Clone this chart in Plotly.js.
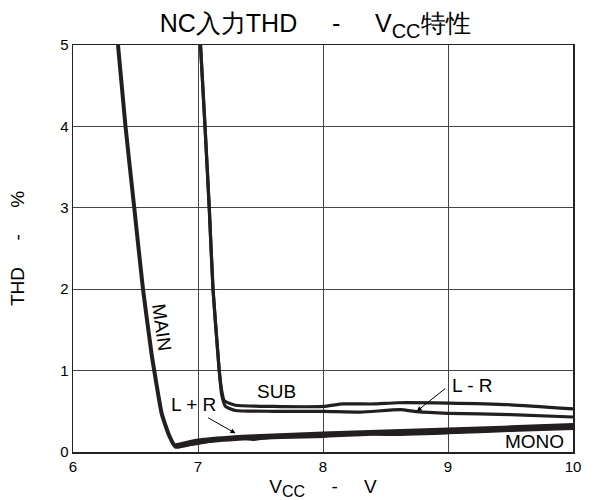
<!DOCTYPE html>
<html>
<head>
<meta charset="utf-8">
<script src="https://cdn.plot.ly/plotly-3.0.1.min.js"></script>
<style>html,body{margin:0;padding:0;background:#fff;}#chart{width:598px;height:500px;}</style>
</head>
<body>
<div id="chart"></div>
<script>
// MAIN: steep fall, then joins the low band
const mainX = [6.36, 6.42, 6.49, 6.56, 6.63, 6.65, 6.71, 6.77, 6.82, 7.0, 7.3, 7.6, 8.0, 8.5, 9.0, 9.5, 10.0];
const mainY = [5.0, 4.0, 3.0, 2.0, 1.19, 1.0, 0.47, 0.20, 0.065, 0.12, 0.16, 0.18, 0.20, 0.23, 0.25, 0.28, 0.31];
// MONO and L+R (thick band near bottom)
const monoX = [6.82, 7.0, 7.3, 7.6, 8.0, 8.5, 9.0, 9.5, 10.0];
const monoY = [0.085, 0.145, 0.185, 0.205, 0.23, 0.255, 0.28, 0.305, 0.335];
const lprX  = [6.82, 7.0, 7.3, 7.45, 7.6, 8.0, 8.2, 8.5, 9.0, 9.5, 10.0];
const lprY  = [0.07, 0.105, 0.18, 0.155, 0.185, 0.19, 0.24, 0.215, 0.235, 0.265, 0.29];
// SUB (upper) and L-R (lower)
const subX = [7.02, 7.056, 7.09, 7.12, 7.16, 7.17, 7.19, 7.21, 7.3, 7.6, 8.0, 8.16, 8.4, 8.6, 9.0, 9.5, 10.0];
const subY = [5.0, 4.0, 3.0, 2.0, 1.19, 1.0, 0.75, 0.63, 0.575, 0.56, 0.56, 0.59, 0.59, 0.605, 0.60, 0.58, 0.53];
const lmrX = [7.02, 7.056, 7.09, 7.12, 7.16, 7.17, 7.19, 7.22, 7.3, 7.6, 8.0, 8.3, 8.62, 8.75, 9.0, 9.5, 10.0];
const lmrY = [5.0, 4.0, 3.0, 2.0, 1.19, 1.0, 0.70, 0.56, 0.51, 0.50, 0.50, 0.49, 0.52, 0.495, 0.475, 0.46, 0.43];

const xTicks = [6, 7, 8, 9, 10];
const yTicks = [0, 1, 2, 3, 4, 5];

const lineColor = '#231f20';
const mk = (x, y, w) => ({x: x, y: y, mode: 'lines', type: 'scatter', line: {color: lineColor, width: w, shape: 'spline', smoothing: 0.5}, hoverinfo: 'skip', showlegend: false});

const data = [
  mk(mainX, mainY, 4.0),
  mk(monoX, monoY, 3.6),
  mk(lprX, lprY, 3.0),
  mk(subX, subY, 3.2),
  mk(lmrX, lmrY, 3.2)
];

const font = 'Liberation Sans, Arial, sans-serif';
const annFont = {size: 19, family: font, color: '#000'};
const layout = {
  width: 598, height: 500,
  paper_bgcolor: '#fff', plot_bgcolor: '#fff',
  margin: {l: 73, r: 25, t: 45, b: 48},
  font: {family: font, color: '#000', size: 15},
  title: {text: 'NC入力THD     -     V<sub><span style="font-size:20px">CC</span></sub>特性', font: {family: font, size: 25, color: '#000'}, x: 0.527, xanchor: 'center', y: 0.953, yanchor: 'middle'},
  xaxis: {
    range: [6, 10], tickvals: xTicks, ticktext: xTicks.map(String),
    showgrid: true, gridcolor: '#444', gridwidth: 1, zeroline: false,
    showline: true, linecolor: '#222', linewidth: 1.5, mirror: true,
    ticks: '', tickfont: {size: 15, family: font},
    title: {text: 'V<sub><span style="font-size:16px">CC</span></sub>     -     V', font: {size: 19, family: font}, standoff: 6},
    automargin: false
  },
  yaxis: {
    range: [0, 5], tickvals: yTicks, ticktext: yTicks.map(String),
    showgrid: true, gridcolor: '#444', gridwidth: 1, zeroline: false,
    showline: true, linecolor: '#222', linewidth: 1.5, mirror: true,
    ticks: '', tickfont: {size: 15, family: font},
    title: {text: 'THD     -     %', font: {size: 19, family: font}, standoff: 30},
    automargin: false
  },
  annotations: [
    {x: 7.63, y: 0.74, text: 'SUB', showarrow: false, font: annFont},
    {x: 6.71, y: 1.53, text: 'MAIN', showarrow: false, textangle: 82, font: annFont},
    {x: 9.945, y: 0.13, text: 'MONO', showarrow: false, xanchor: 'right', font: annFont},
    {x: 7.30, y: 0.23, ax: 7.07, ay: 0.43, axref: 'x', ayref: 'y', text: '', showarrow: true, arrowhead: 2, arrowsize: 1, arrowwidth: 1, arrowcolor: '#000'},
    {x: 6.96, y: 0.58, text: 'L + R', showarrow: false, font: annFont},
    {x: 8.75, y: 0.50, ax: 8.99, ay: 0.795, axref: 'x', ayref: 'y', text: '', showarrow: true, arrowhead: 2, arrowsize: 1, arrowwidth: 1, arrowcolor: '#000'},
    {x: 9.19, y: 0.82, text: 'L - R', showarrow: false, font: annFont}
  ]
};

Plotly.newPlot('chart', data, layout, {displayModeBar: false, staticPlot: true});
</script>
</body>
</html>
